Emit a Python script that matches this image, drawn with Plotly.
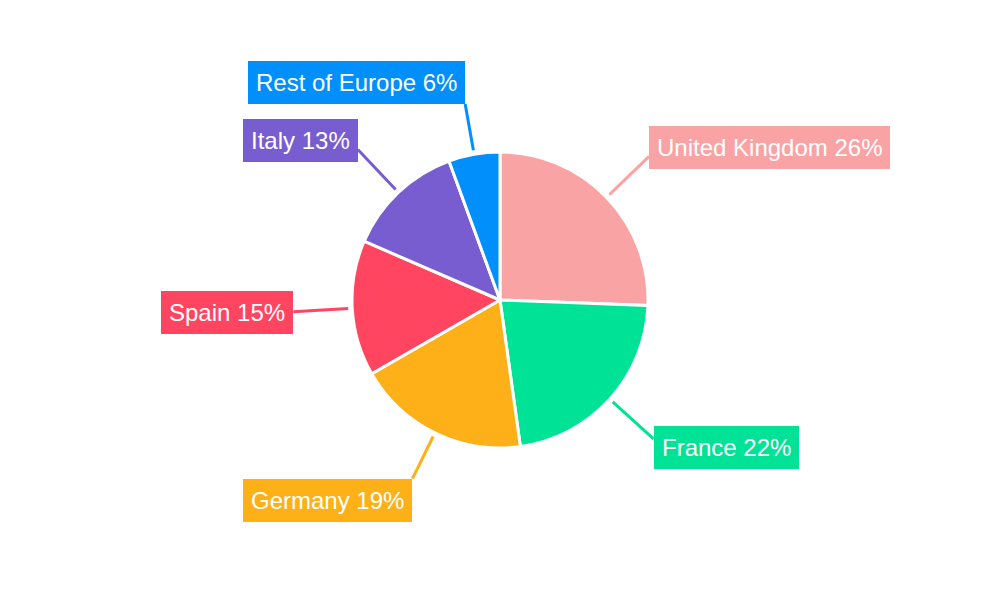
import math
import plotly.graph_objects as go

countries = ["United Kingdom", "France", "Germany", "Spain", "Italy", "Rest of Europe"]
shares = [25.6, 22.2, 18.9, 14.8, 12.9, 5.6]
share_labels = ["26%", "22%", "19%", "15%", "13%", "6%"]
colors = ["#F9A3A4", "#00E396", "#FEB019", "#FF4560", "#775DD0", "#008FFB"]

W, H = 1000, 600
# page has an 8px body margin, so centre is nudged to land at (500, 300) on screen
cx, cy, r = 492, 308, 148

fig = go.Figure(go.Pie(
    labels=countries,
    values=shares,
    sort=False,
    direction="clockwise",
    rotation=0,
    textinfo="none",
    hoverinfo="label+percent",
    marker=dict(colors=colors, line=dict(color="white", width=3)),
    domain=dict(x=[(cx - r) / W, (cx + r) / W], y=[(cy - r) / H, (cy + r) / H]),
    showlegend=False,
))

# leader lines + boxed labels, placed at each slice's mid angle
total = sum(shares)
acc = 0
shapes = []
annotations = []
for name, v, lab, col in zip(countries, shares, share_labels, colors):
    mid = (acc + v / 2) / total * 2 * math.pi
    acc += v
    sx, sy = math.sin(mid), math.cos(mid)
    near_pole = abs(sy) > 0.85
    L = 51 if near_pole else 59
    x0, y0 = cx + sx * (r + 4), cy + sy * (r + 4)
    x1, y1 = cx + sx * (r + L), cy + sy * (r + L)
    shapes.append(dict(type="line", xref="paper", yref="paper",
                       x0=x0 / W, y0=y0 / H, x1=x1 / W, y1=y1 / H,
                       line=dict(color=col, width=3)))
    if near_pole:
        yanc = "bottom" if sy > 0 else "top"
        ysh = 0
    else:
        yanc = "middle"
        ysh = sy * 13
    annotations.append(dict(
        text=f"{name} {lab}", xref="paper", yref="paper",
        x=x1 / W, y=y1 / H, yshift=ysh,
        xanchor="left" if sx > 0 else "right", yanchor=yanc,
        showarrow=False, bgcolor=col, borderpad=8, borderwidth=0,
        font=dict(family="Liberation Sans, Arial, sans-serif", size=24, color="white"),
    ))

fig.update_layout(
    width=W, height=H,
    margin=dict(l=0, r=0, t=0, b=0),
    paper_bgcolor="white",
    plot_bgcolor="white",
    shapes=shapes,
    annotations=annotations,
)

fig.write_html("out.html")
